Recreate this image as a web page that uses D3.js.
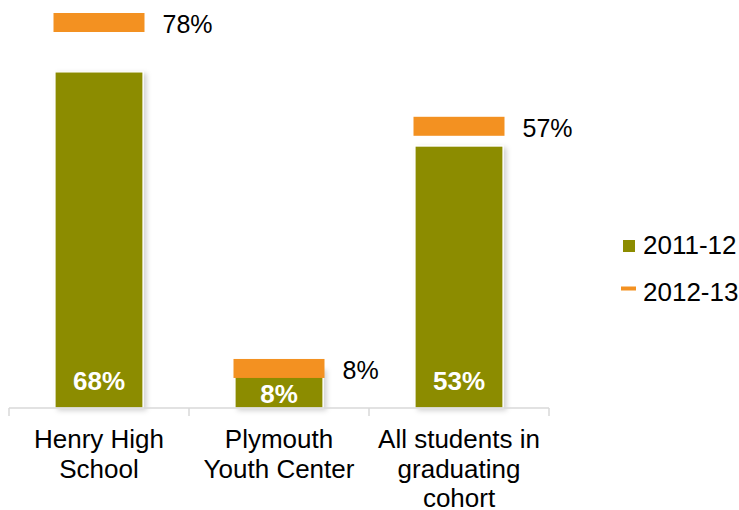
<!DOCTYPE html>
<html>
<head>
<meta charset="UTF-8">
<title>Graduation rates</title>
<script src="https://d3js.org/d3.v7.min.js"></script>
<style>
 body { margin: 0; background: #fff; }
 text { font-family: Arial, "Liberation Sans", sans-serif; }
</style>
</head>
<body>
<svg width="739" height="510"></svg>
<script>
// chart values
var categories = [["Henry High", "School"], ["Plymouth", "Youth Center"], ["All students in", "graduating", "cohort"]];
var values2011 = [68, 8, 53];
var values2012 = [78, 8, 57];
var seriesNames = ["2011-12", "2012-13"];

var svg = d3.select("svg");
var olive = "#8c8c00", orange = "#f39121";

var baseY = 408;
var x = d3.scaleBand().domain(d3.range(categories.length)).range([9, 549]);
var y = d3.scaleLinear().domain([0, 78]).range([baseY, 22.5]);

// soft shadow on the bars
var defs = svg.append("defs");
var f = defs.append("filter").attr("id", "shadow").attr("x", "-20%").attr("y", "-20%").attr("width", "150%").attr("height", "150%");
f.append("feDropShadow").attr("dx", 3).attr("dy", 2).attr("stdDeviation", 2.5)
 .attr("flood-color", "#000").attr("flood-opacity", 0.18);

var barW = 88;

svg.append("g").selectAll("rect").data(values2011).enter().append("rect")
  .attr("x", function(d, i) { return x(i) + x.bandwidth() / 2 - barW / 2; })
  .attr("y", function(d) { return y(d); })
  .attr("width", barW)
  .attr("height", function(d) { return baseY - y(d); })
  .attr("fill", olive)
  .attr("stroke", "#fff").attr("stroke-width", 1.2)
  .attr("filter", "url(#shadow)");

// axis line and ticks
var axis = svg.append("g");
axis.append("line").attr("x1", 9).attr("x2", 549).attr("y1", baseY).attr("y2", baseY)
  .attr("stroke", "#d9d9d9").attr("stroke-width", 1.5);
axis.selectAll("line.tick").data(d3.range(categories.length + 1)).enter().append("line")
  .attr("class", "tick")
  .attr("x1", function(d) { return 9 + d * x.bandwidth(); })
  .attr("x2", function(d) { return 9 + d * x.bandwidth(); })
  .attr("y1", baseY).attr("y2", baseY + 8)
  .attr("stroke", "#d9d9d9").attr("stroke-width", 1.5);

// 2012-13 markers
var mW = 91, mH = 19;
svg.append("g").selectAll("rect").data(values2012).enter().append("rect")
  .attr("x", function(d, i) { return x(i) + x.bandwidth() / 2 - mW / 2; })
  .attr("y", function(d) { return y(d) - mH / 2; })
  .attr("width", mW).attr("height", mH)
  .attr("fill", orange);

// labels inside bars
svg.append("g").selectAll("text").data(values2011).enter().append("text")
  .attr("x", function(d, i) { return x(i) + x.bandwidth() / 2; })
  .attr("y", function(d) { return baseY - y(d) < 40 ? 403 : 390; })
  .attr("text-anchor", "middle")
  .attr("fill", "#fff").attr("font-weight", "bold").attr("font-size", "26px")
  .text(function(d) { return d + "%"; });

// labels next to markers
svg.append("g").selectAll("text").data(values2012).enter().append("text")
  .attr("x", function(d, i) { return x(i) + x.bandwidth() / 2 + mW / 2 + 18; })
  .attr("y", function(d) { return y(d) + 10.5; })
  .attr("fill", "#000").attr("font-size", "25px")
  .text(function(d) { return d + "%"; });

// category labels
var cat = svg.append("g").selectAll("text").data(categories).enter().append("text")
  .attr("text-anchor", "middle")
  .attr("font-size", "26px").attr("fill", "#000")
  .attr("transform", function(d, i) { return "translate(" + (x(i) + x.bandwidth() / 2) + ",448)"; });
cat.selectAll("tspan").data(function(d) { return d; }).enter().append("tspan")
  .attr("x", 0).attr("y", function(d, j) { return j * 29.5; })
  .text(function(d) { return d; });

// legend
var leg = svg.append("g");
leg.append("rect").attr("x", 623).attr("y", 240).attr("width", 12).attr("height", 12).attr("fill", olive);
leg.append("text").attr("x", 643).attr("y", 254).attr("font-size", "26px").text(seriesNames[0]);
leg.append("rect").attr("x", 621).attr("y", 286.5).attr("width", 15).attr("height", 4).attr("fill", orange);
leg.append("text").attr("x", 643).attr("y", 301).attr("font-size", "26px").text(seriesNames[1]);
</script>
</body>
</html>
